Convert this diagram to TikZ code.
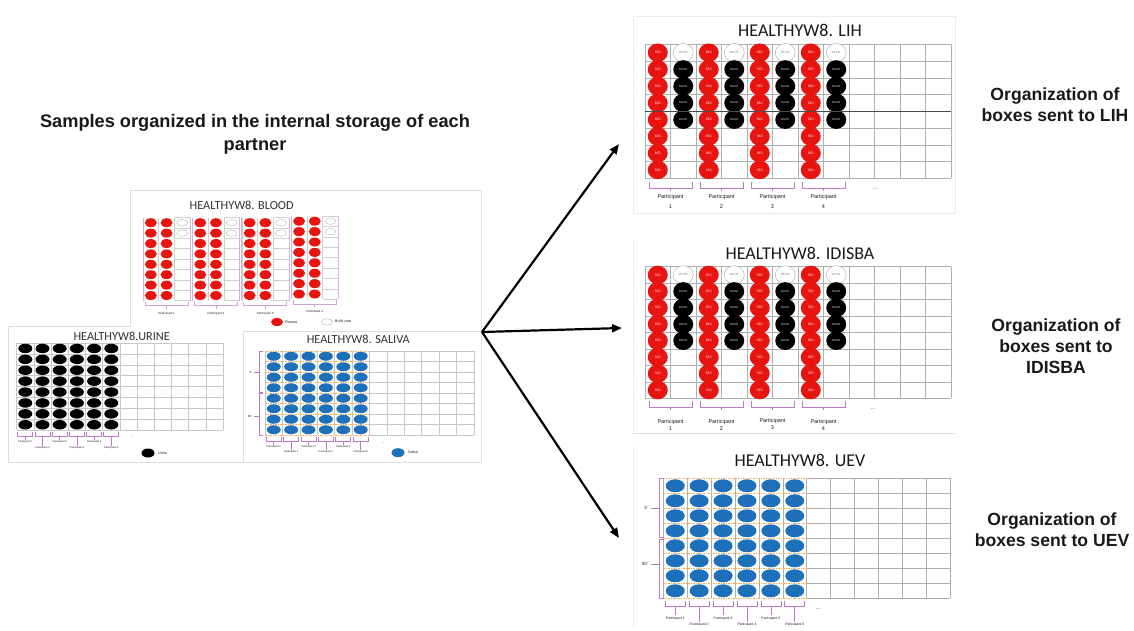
\documentclass[tikz,border=0pt]{standalone}
\usepackage{fontspec}
\setmainfont{Liberation Sans}
\newfontfamily\calfont{Carlito}
\usetikzlibrary{shapes.geometric,arrows.meta}
\definecolor{redS}{RGB}{232,20,16}
\definecolor{blueS}{RGB}{30,112,186}
\definecolor{brk}{RGB}{190,120,200}
\definecolor{org}{RGB}{240,170,90}
\definecolor{gridc}{RGB}{175,175,175}
\definecolor{txt}{RGB}{25,25,25}
\definecolor{frm}{RGB}{222,222,222}
\tikzset{
  cellgrid/.style={draw=gridc, line width=0.5pt},
  orgdash/.style={draw=org, line width=0.5pt, dash pattern=on 1.5pt off 1pt},
  brkline/.style={draw=brk, line width=0.7pt},
  frameline/.style={draw=frm, line width=0.6pt},
  redbig/.style={ellipse, fill=redS, minimum width=20pt, minimum height=18.5pt, inner sep=0pt, text=white!85!red, font=\calfont\fontsize{3.6}{3.6}\selectfont},
  whitebig/.style={ellipse, draw=gray!70, fill=white, line width=0.4pt, minimum width=20pt, minimum height=18.5pt, inner sep=0pt, text=gray, font=\calfont\fontsize{3.2}{3.2}\selectfont},
  blackbig/.style={ellipse, fill=black, minimum width=20pt, minimum height=18.5pt, inner sep=0pt, text=white!80!black, font=\calfont\fontsize{3.2}{3.2}\selectfont},
  bluebig/.style={ellipse, fill=blueS, minimum width=19pt, minimum height=13pt, inner sep=0pt},
  redsm/.style={ellipse, fill=redS, minimum width=12pt, minimum height=9pt, inner sep=0pt},
  whitesm/.style={ellipse, draw=gray!70, fill=white, line width=0.3pt, minimum width=11pt, minimum height=6.5pt, inner sep=0pt},
  blacksm/.style={ellipse, fill=black, minimum width=14pt, minimum height=9.5pt, inner sep=0pt},
  bluesm/.style={ellipse, fill=blueS, minimum width=14pt, minimum height=9pt, inner sep=0pt},
  bigtitle/.style={font=\calfont\fontsize{18}{18}\selectfont, text=txt, inner sep=0pt},
  smalltitle/.style={font=\calfont\fontsize{12.3}{12.3}\selectfont, text=black!80, inner sep=0pt},
  headtext/.style={font=\bfseries\fontsize{18.2}{22.7}\selectfont, align=center, text=txt, inner sep=0pt},
  sidetext/.style={font=\bfseries\fontsize{17.6}{21}\selectfont, align=center, text=txt, inner sep=0pt},
  partlbl/.style={font=\fontsize{5.5}{9.5}\selectfont, align=center, text=txt, inner sep=0pt},
  partlblB/.style={font=\fontsize{5.5}{7}\selectfont, align=center, text=txt, inner sep=0pt},
  tinylbl/.style={font=\fontsize{3}{3}\selectfont, text=txt, inner sep=0pt},
  leglbl/.style={font=\fontsize{3.6}{3.6}\selectfont, text=txt, inner sep=0pt, anchor=west},
  uevlbl/.style={font=\fontsize{3.4}{3.4}\selectfont, text=txt, inner sep=0pt},
  arr/.style={-{Triangle[length=10pt,width=8pt]}, line width=2.2pt, black},
}
% big panel: #1 name, #2 y0, #3 row height, #4 bracket top, #5 label centre y, #6 label style
\newcommand{\bigpanel}[6]{%
  \pgfmathsetmacro{\ybot}{#2+8*#3}
  \foreach \i in {0,...,12}{\draw[cellgrid] ({645+\i*25.5},#2) -- ({645+\i*25.5},\ybot);}
  \foreach \j in {0,...,8}{\draw[cellgrid] (645,{#2+\j*#3}) -- (951,{#2+\j*#3});}
  \foreach \p/\n in {0/1,1/2,2/3,3/4}{
    \pgfmathsetmacro{\xr}{645+(2*\p+0.5)*25.5}
    \pgfmathsetmacro{\xw}{645+(2*\p+1.5)*25.5}
    \foreach \r in {0,...,7}{\node[redbig] (#1-red-\p-\r) at (\xr,{#2+(\r+0.5)*#3}) {RED};}
    \node[whitebig] (#1-white-\p) at (\xw,{#2+0.5*#3}) {WHITE};
    \foreach \r in {1,...,4}{\node[blackbig] (#1-black-\p-\r) at (\xw,{#2+(\r+0.5)*#3}) {BLACK};}
    \pgfmathsetmacro{\xa}{645+2*\p*25.5+4}
    \pgfmathsetmacro{\xb}{645+(2*\p+2)*25.5-4}
    \pgfmathsetmacro{\xm}{645+(2*\p+1)*25.5}
    \draw[brkline] (\xa,#4) -- (\xa,{#4+6}) -- (\xb,{#4+6}) -- (\xb,#4);
    \draw[brkline] (\xm,{#4+6}) -- (\xm,{#4+9});
    \node[#6] (#1-part-\n) at (\xm,#5) {Participant\\\n};
  }
}
\begin{document}
\begin{tikzpicture}[x=1pt,y=-1pt]
\useasboundingbox (0,0) rectangle (1134,630);
\fill[white] (0,0) rectangle (1134,630);

% ---------- left heading ----------
\node[headtext] (head) at (255,134) {Samples organized in the internal storage of each\\partner};

% ---------- left composite frames ----------
\draw[frameline] (130,190) -- (481,190) -- (481,462) -- (8,462) -- (8,326) -- (130,326) -- cycle;
\draw[frameline] (243,331) -- (481,331);
\draw[frameline] (243,331) -- (243,462);

% ---------- BLOOD ----------
\node[smalltitle] (bloodtitle) at (241.7,205) {HEALTHYW8. BLOOD};
\foreach \g/\n/\yo in {0/1/217.5,1/2/217.5,2/3/217.5,3/4/216}{
  \pgfmathsetmacro{\gx}{143+49.4*\g}
  \foreach \i in {0,...,3}{\draw[cellgrid, draw=gridc!60] ({\gx+\i*15.7},\yo) -- ({\gx+\i*15.7},{\yo+83.2});}
  \foreach \j in {0,...,8}{\draw[cellgrid, draw=gridc!60] ({\gx+31.4},{\yo+\j*10.4}) -- ({\gx+47.1},{\yo+\j*10.4});}
  \draw[brkline, draw=brk!60] (\gx,\yo) -- (\gx,{\yo+83.2});
  \draw[brkline, draw=brk!60] ({\gx+47.1},\yo) -- ({\gx+47.1},{\yo+83.2});
  \foreach \r in {0,...,7}{
    \node[redsm] (bl-a-\g-\r) at ({\gx+7.85},{\yo+(\r+0.5)*10.4}) {};
    \node[redsm] (bl-b-\g-\r) at ({\gx+23.55},{\yo+(\r+0.5)*10.4}) {};
  }
  \node[whitesm] (bl-w1-\g) at ({\gx+39.25},{\yo+5.2}) {};
  \node[whitesm] (bl-w2-\g) at ({\gx+39.25},{\yo+15.6}) {};
  \draw[brkline, draw=brk!70] ({\gx+2},{\yo+84}) -- ({\gx+2},{\yo+88}) -- ({\gx+45},{\yo+88}) -- ({\gx+45},{\yo+84});
  \draw[brkline, draw=brk!70] ({\gx+23.5},{\yo+88}) -- ({\gx+23.5},{\yo+91});
  \node[tinylbl] (bl-part-\n) at ({\gx+23.5},{\yo+96}) {Participant \n};
}
\node[redsm, minimum width=12pt, minimum height=8pt] (bl-leg-p) at (277,322) {};
\node[leglbl] (bl-leg-pt) at (285,322) {Plasma};
\node[whitesm] (bl-leg-b) at (327,322) {};
\node[leglbl] (bl-leg-bt) at (335,322) {Buffy coat};

% ---------- URINE ----------
\node[smalltitle] (urinetitle) at (121.7,336.7) {HEALTHYW8.URINE};
\foreach \i in {0,...,12}{\draw[cellgrid, draw=gridc!70] ({16.7+\i*17.2},343) -- ({16.7+\i*17.2},430.2);}
\foreach \j in {0,...,8}{\draw[cellgrid, draw=gridc!70] (16.7,{343+\j*10.9}) -- (223.1,{343+\j*10.9});}
\foreach \c/\n/\ly in {0/1/441.7,1/2/447.7,2/3/441.7,3/4/447.7,4/5/441.7,5/6/447.7}{
  \pgfmathsetmacro{\cx}{16.7+(\c+0.5)*17.2}
  \foreach \r in {0,...,7}{\node[blacksm] (ur-\c-\r) at (\cx,{343+(\r+0.5)*10.9}) {};}
  \draw[brkline] ({\cx-7.5},431.5) -- ({\cx-7.5},436) -- ({\cx+7.5},436) -- ({\cx+7.5},431.5);
  \draw[brkline] (\cx,436) -- (\cx,{\ly-2});
  \node[tinylbl, font=\fontsize{2.6}{2.6}\selectfont] (ur-part-\n) at (\cx,\ly) {Participant \n};
}
\node[tinylbl] (ur-dots) at (133,437) {...};
\node[blacksm, minimum width=13pt, minimum height=9pt] (ur-leg) at (148,453) {};
\node[leglbl] (ur-legt) at (158,453) {Urine};

% ---------- SALIVA ----------
\node[smalltitle] (salivatitle) at (358.3,339) {HEALTHYW8. SALIVA};
\foreach \i in {0,...,12}{\draw[cellgrid, draw=gridc!70] ({265+\i*17.4},351) -- ({265+\i*17.4},435);}
\foreach \j in {0,...,8}{
  \draw[orgdash] (265,{351+\j*10.5}) -- (369.4,{351+\j*10.5});
  \draw[cellgrid, draw=gridc!70] (369.4,{351+\j*10.5}) -- (473.8,{351+\j*10.5});
}
\foreach \c/\n/\ly in {0/1/447,1/2/452,2/3/447,3/4/452,4/5/447,5/6/452}{
  \pgfmathsetmacro{\cx}{265+(\c+0.5)*17.4}
  \foreach \r in {0,...,7}{\node[bluesm] (sa-\c-\r) at (\cx,{351+(\r+0.5)*10.5}) {};}
  \draw[brkline] ({\cx-7.5},436.5) -- ({\cx-7.5},441) -- ({\cx+7.5},441) -- ({\cx+7.5},436.5);
  \draw[brkline] (\cx,441) -- (\cx,{\ly-2});
  \node[tinylbl, font=\fontsize{2.6}{2.6}\selectfont] (sa-part-\n) at (\cx,\ly) {Participant \n};
}
\draw[brkline] (263,351) -- (259,351) -- (259,392.5) -- (263,392.5);
\draw[brkline] (263,393.5) -- (259,393.5) -- (259,435) -- (263,435);
\draw[brkline] (259,372.7) -- (254,372.7);
\draw[brkline] (259,416.7) -- (254,416.7);
\node[tinylbl, anchor=east] (sa-5) at (252,372.7) {5'};
\node[tinylbl, anchor=east] (sa-30) at (252,416.7) {30'};
\node[tinylbl] (sa-dots) at (383,443) {...};
\node[bluesm, minimum width=13pt, minimum height=9pt] (sa-leg) at (398,452.7) {};
\node[leglbl] (sa-legt) at (408,452.7) {Saliva};

% ---------- arrows ----------
\coordinate (src) at (482,332);
\coordinate (tLIH) at (619,144);
\coordinate (tIDI) at (622,328);
\coordinate (tUEV) at (619,538);
\draw[arr] (src) -- (tLIH);
\draw[arr] (src) -- (tIDI);
\draw[arr] (src) -- (tUEV);

% ---------- LIH ----------
\draw[frameline, draw=frm!60] (633,16) rectangle (955,213);
\node[bigtitle] (lihtitle) at (800,30) {HEALTHYW8. LIH};
\bigpanel{lih}{44.3}{16.75}{182}{201.7}{partlbl}
\draw[gray!60!black, line width=0.9pt] (645,111.3) -- (951,111.3);
\node[tinylbl, font=\fontsize{5}{5}\selectfont] (lih-dots) at (875,189) {...};

% ---------- IDISBA ----------
\draw[frameline, draw=frm!60] (633,240) -- (633,433.3);
\draw[frameline] (633,433.3) -- (955,433.3);
\node[bigtitle] (iditle) at (800,253.3) {HEALTHYW8. IDISBA};
\bigpanel{idi}{266.7}{16.45}{401}{424.5}{partlblB}
\node[tinylbl, font=\fontsize{5}{5}\selectfont] (idi-dots) at (873,409) {...};

% ---------- UEV ----------
\draw[frameline, draw=frm!60] (633,447) -- (633,628);
\node[bigtitle] (uevtitle) at (800,460) {HEALTHYW8. UEV};
\foreach \i in {0,...,12}{\draw[cellgrid] ({663.3+\i*23.9},478.3) -- ({663.3+\i*23.9},598.3);}
\foreach \j in {0,...,8}{
  \draw[orgdash] (663.3,{478.3+\j*15}) -- (806.7,{478.3+\j*15});
  \draw[cellgrid] (806.7,{478.3+\j*15}) -- (950.1,{478.3+\j*15});
}
\foreach \c/\n/\ly in {0/1/618.3,1/2/625,2/3/618.3,3/4/625,4/5/618.3,5/6/625}{
  \pgfmathsetmacro{\cx}{663.3+(\c+0.5)*23.9}
  \foreach \r in {0,...,7}{\node[bluebig] (uev-\c-\r) at (\cx,{478.3+(\r+0.5)*15}) {};}
  \draw[brkline] ({\cx-10},601) -- ({\cx-10},606) -- ({\cx+10},606) -- ({\cx+10},601);
  \draw[brkline] (\cx,606) -- (\cx,{\ly-3});
  \node[uevlbl] (uev-part-\n) at (\cx,\ly) {Participant \n};
}
\draw[brkline] (664,478.3) -- (659,478.3) -- (659,537.5) -- (664,537.5);
\draw[brkline] (664,539.5) -- (659,539.5) -- (659,598.3) -- (664,598.3);
\draw[brkline] (659,508) -- (651,508);
\draw[brkline] (659,564) -- (651,564);
\node[uevlbl, anchor=east, font=\fontsize{4.5}{4.5}\selectfont] (uev-5) at (648,508) {5'};
\node[uevlbl, anchor=east, font=\fontsize{4.5}{4.5}\selectfont] (uev-30) at (648,564) {30'};
\node[tinylbl, font=\fontsize{5}{5}\selectfont] (uev-dots) at (818,609) {...};

% ---------- right-hand texts ----------
\node[sidetext] (sLIH) at (1055,105) {Organization of\\boxes sent to LIH};
\node[sidetext] (sIDI) at (1056,346.5) {Organization of\\boxes sent to\\IDISBA};
\node[sidetext] (sUEV) at (1052,530) {Organization of\\boxes sent to UEV};
\end{tikzpicture}
\end{document}
